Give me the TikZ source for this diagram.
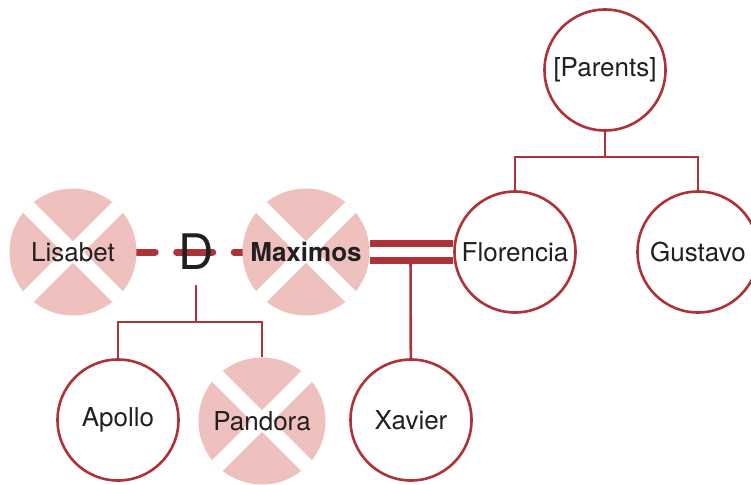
\documentclass[tikz,border=0pt]{standalone}
\usepackage{fontspec}
\setmainfont{TeX Gyre Heros}
\usetikzlibrary{backgrounds, calc}
\definecolor{kinred}{RGB}{174,50,56}
\definecolor{gonepink}{RGB}{238,193,190}
\definecolor{ink}{RGB}{35,31,32}

\begin{document}
\begin{tikzpicture}[x=1pt, y=-1pt, font=\fontsize{26}{30}\selectfont, text=ink,
    person/.style={circle, draw=kinred, line width=2.6pt, fill=white, minimum size=121pt, inner sep=0pt},
    gone/.style={circle, fill=gonepink, minimum size=127pt, inner sep=0pt,
        path picture={\draw [white, line width=15pt] (path picture bounding box.north west) -- (path picture bounding box.south east)
            (path picture bounding box.north east) -- (path picture bounding box.south west);}},
    kin/.style={draw=kinred, line width=2.6pt},
    wed/.style={kin, double=white, double distance=10pt, line width=7pt},
    split/.style={kin, line width=7pt, line cap=round, dash pattern=on 36pt off 21.5pt, dash phase=17.5pt}]
    \useasboundingbox (0,0) rectangle (751,484);
    \node [person] (par) at (605,70) {[Parents]};
    \node [person] (flo) at (515,252) {Florencia};
    \node [person] (gus) at (698,252) {Gustavo};
    \node [gone] (lis) at (73,252) {Lisabet};
    \node [gone, font=\fontsize{26}{30}\selectfont\bfseries] (max) at (306,252) {Maximos};
    \node [person] (apo) at (118,420) {Apollo};
    \node [gone] (pan) at (262,421) {Pandora};
    \node [person] (xav) at (411,420) {Xavier};
    \node [font=\fontsize{49}{49}\selectfont, inner sep=0pt] (d) at (196,252) {D};
    \begin{scope}[on background layer]
        \draw [split] (lis) -- (max);
        \draw [kin] ($(max)!0.5!(flo)$) -- (xav);
        \draw [wed] (max) -- (flo);
    \end{scope}
    \draw [kin] (par.south) -- ++(0,25) coordinate (pj) -| (flo);
    \draw [kin] (pj) -| (gus);
    \draw [kin] ([yshift=-15pt]d.south) -- ++(0,37) coordinate (dj) -| (apo);
    \draw [kin] (dj) -| (pan);
\end{tikzpicture}
\end{document}
